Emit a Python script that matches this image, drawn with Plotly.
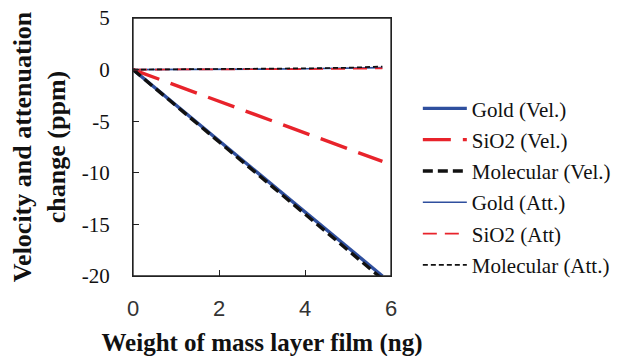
import plotly.graph_objects as go

mass_ng = [0, 1, 2, 3, 4, 5, 5.8]
gold_vel = [0, -3.45, -6.9, -10.35, -13.8, -17.25, -20.0]
sio2_vel = [0, -1.53, -3.07, -4.6, -6.13, -7.67, -8.9]
molecular_vel = [0, -3.5, -7.0, -10.5, -14.0, -17.5, -20.3]
gold_att = [0, 0.0, 0.02, 0.05, 0.08, 0.12, 0.2]
sio2_att = [0, 0.0, 0.0, 0.02, 0.05, 0.08, 0.12]
molecular_att = [0, 0.02, 0.05, 0.08, 0.12, 0.18, 0.3]

y_tickvals = [5, 0, -5, -10, -15, -20]
y_ticktext = ["5", "0", "-5", "-10", "-15", "-20"]
x_tickvals = [0, 2, 4, 6]

BLUE = "#2F4F9E"
RED = "#E8232B"
BLACK = "#111111"

series = [
    ("Gold (Vel.)", gold_vel, BLUE, 3.4, "solid"),
    ("SiO2 (Vel.)", sio2_vel, RED, 3.4, "28px,12px"),
    ("Molecular (Vel.)", molecular_vel, BLACK, 3.4, "10px,5px"),
    ("Gold (Att.)", gold_att, BLUE, 1.7, "solid"),
    ("SiO2 (Att)", sio2_att, RED, 1.7, "14px,8px"),
    ("Molecular (Att.)", molecular_att, BLACK, 1.7, "5px,3px"),
]

fig = go.Figure()
for i, (name, ys, color, width, dash) in enumerate(series):
    fig.add_trace(go.Scatter(
        x=mass_ng, y=ys, mode="lines", name=name, legendgroup=f"g{i}",
        line=dict(color=color, width=width, dash=dash),
        cliponaxis=True,
    ))

# plot-area frame
fig.add_shape(type="rect", xref="paper", yref="paper", x0=0, y0=0, x1=1, y1=1,
              line=dict(color="#222222", width=1.3), layer="above")

fig.update_layout(
    width=622, height=356,
    paper_bgcolor="white", plot_bgcolor="white",
    margin=dict(l=125, r=239, t=10, b=88, autoexpand=False),
    font=dict(family="Liberation Serif", color="#111111"),
    showlegend=True,
    legend=dict(
        x=1.104, y=0.728, xanchor="left", yanchor="top",
        font=dict(family="Liberation Serif", size=21, color="#111111"),
        traceorder="grouped", tracegroupgap=1,
        bgcolor="rgba(0,0,0,0)", itemwidth=44,
    ),
    xaxis=dict(
        range=[0, 6], tickvals=x_tickvals, automargin=False,
        showline=True, linecolor="#222222", linewidth=1.3, mirror=True,
        showgrid=False, zeroline=False,
        ticks="inside", ticklen=6, tickcolor="#222222",
        ticklabelstandoff=12, ticklabeloverflow="allow",
        tickfont=dict(family="Liberation Sans", size=22, color="#333333"),
        title=dict(text="<b>Weight of mass layer film (ng)</b>",
                   font=dict(family="Liberation Serif", size=25), standoff=13),
    ),
    yaxis=dict(
        range=[-20, 5], tickvals=y_tickvals, ticktext=y_ticktext, automargin=False,
        showline=True, linecolor="#222222", linewidth=1.3, mirror=True,
        showgrid=False, zeroline=False,
        ticks="inside", ticklen=6, tickcolor="#222222",
        ticklabelstandoff=18, ticklabeloverflow="allow",
        tickfont=dict(family="Liberation Serif", size=21, color="#111111"),
        title=dict(text="<b>Velocity and attenuation<br>change (ppm)</b>",
                   font=dict(family="Liberation Serif", size=26), standoff=14),
    ),
)

fig.write_html("out.html")
